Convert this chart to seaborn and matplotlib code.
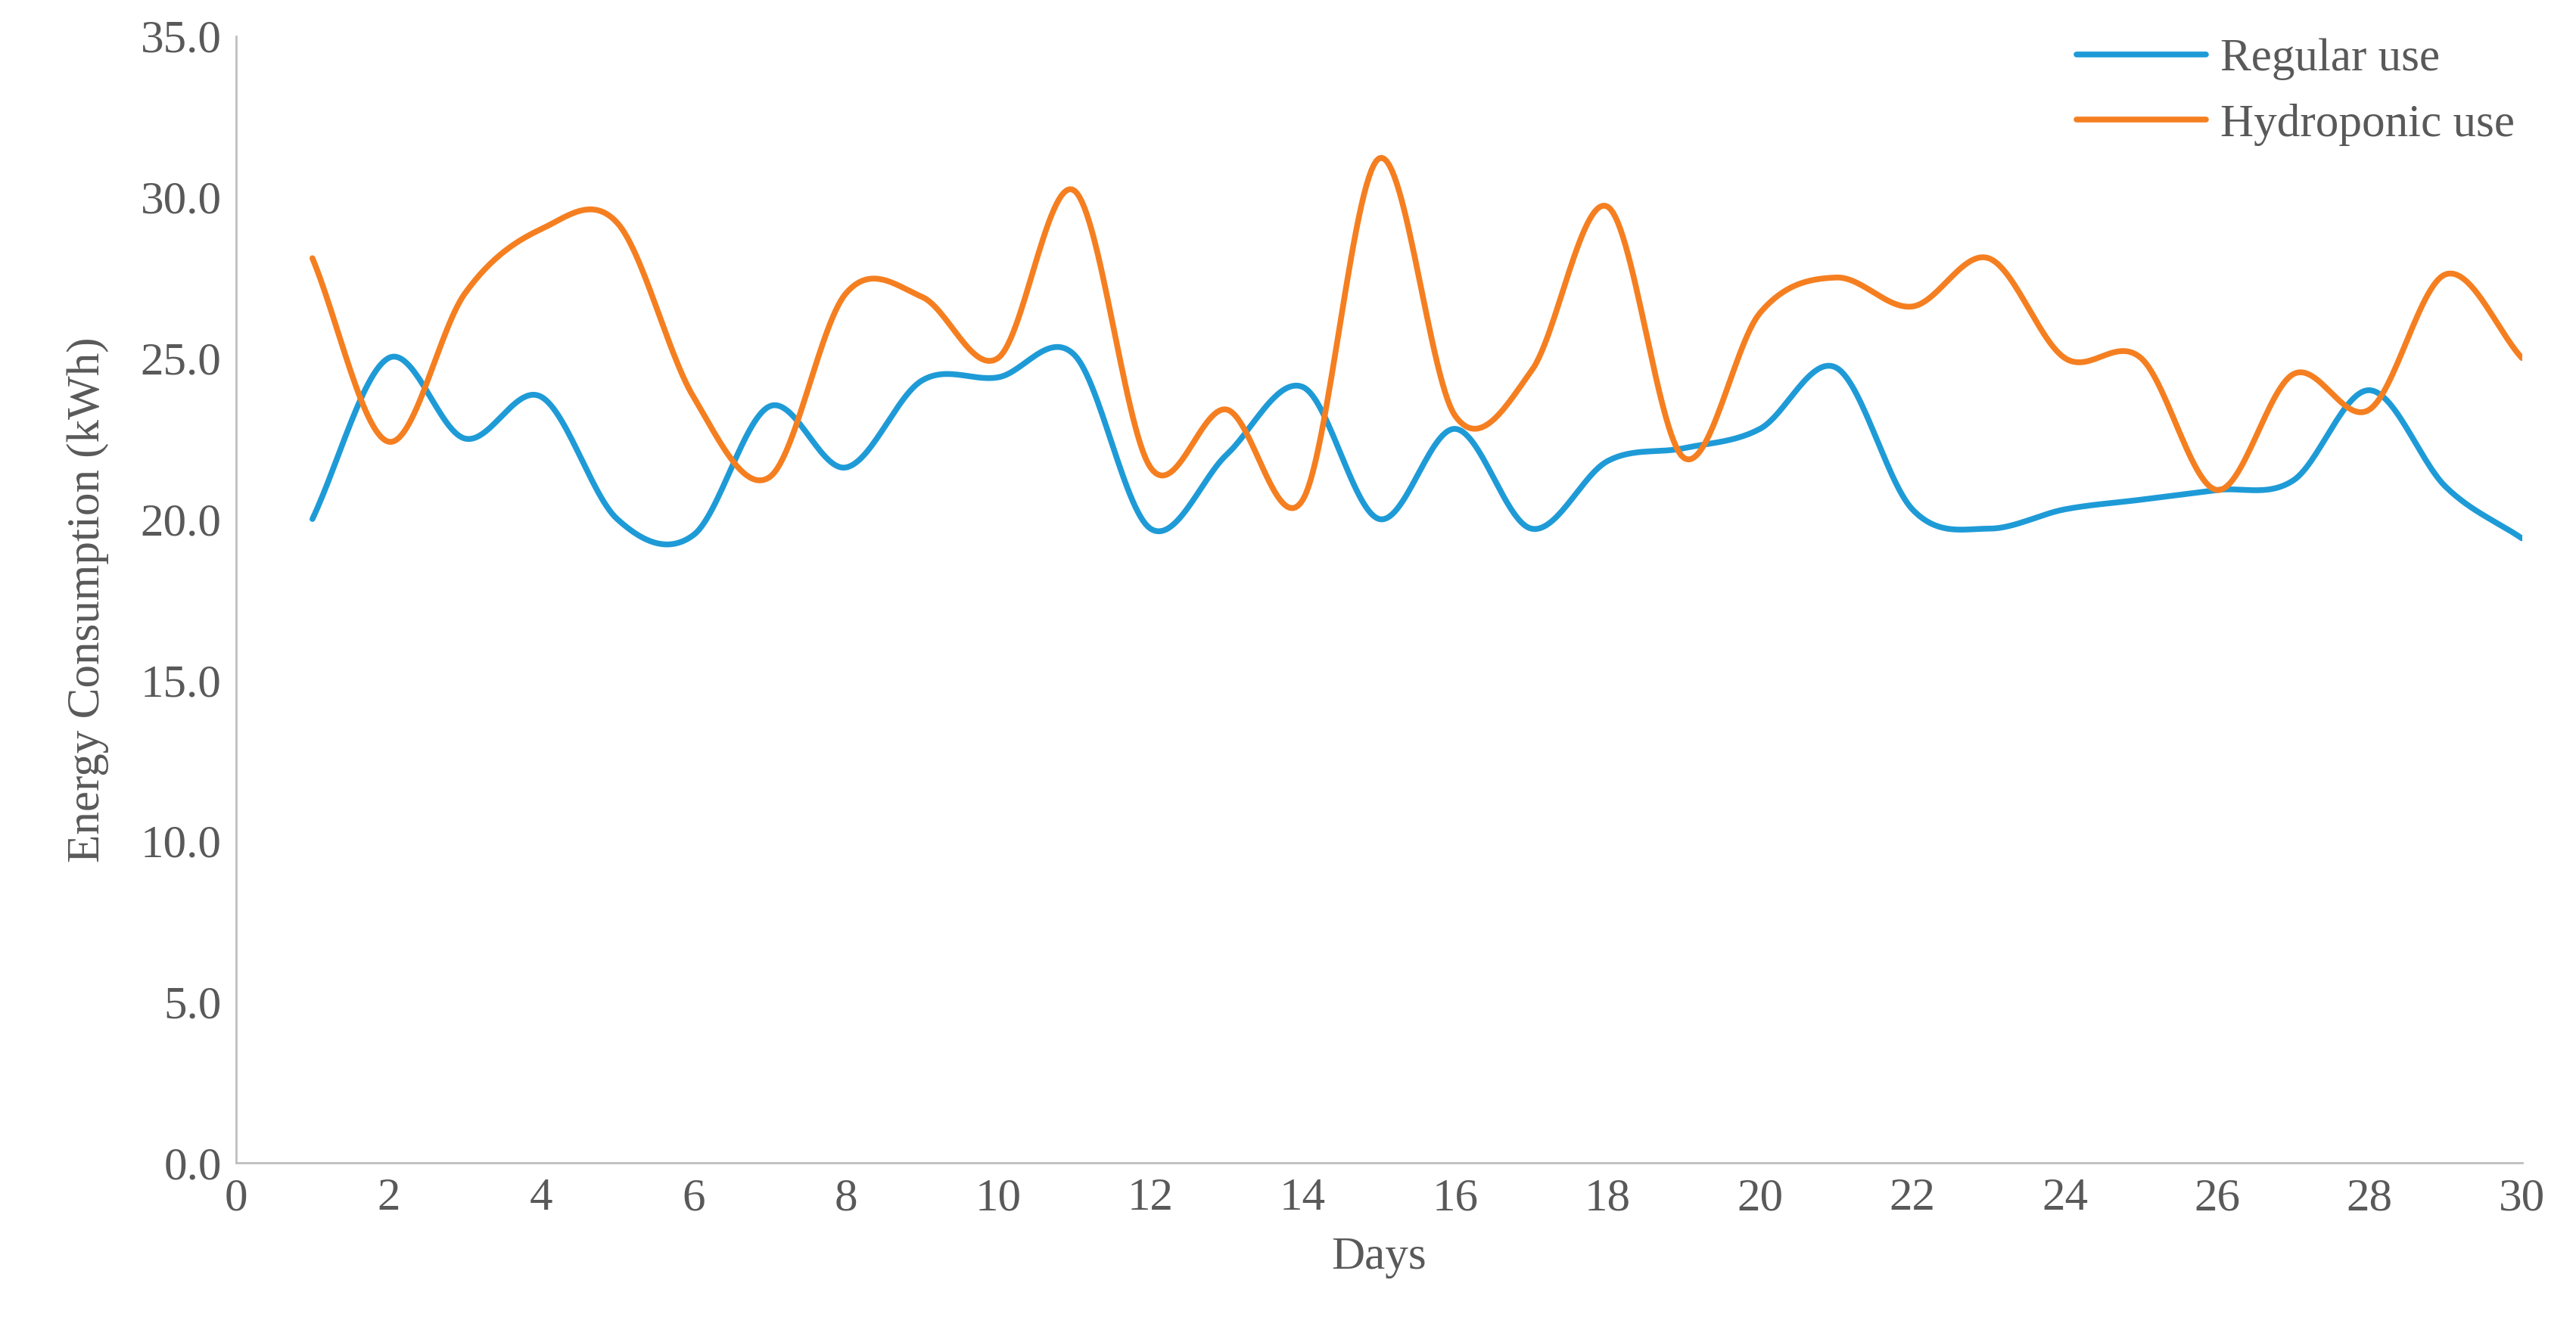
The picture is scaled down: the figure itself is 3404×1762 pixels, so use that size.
import matplotlib
matplotlib.use("Agg")
import matplotlib.pyplot as plt
import seaborn as sns
import pandas as pd
import numpy as np

days = list(range(1, 31))
regular_use = [20.0, 25.0, 22.5, 23.8, 20.0, 19.5, 23.5, 21.6, 24.3, 24.4,
               25.1, 19.7, 22.0, 24.1, 20.0, 22.8, 19.7, 21.8, 22.2, 22.8,
               24.7, 20.3, 19.7, 20.3, 20.6, 20.9, 21.2, 24.0, 21.0, 19.4]
hydroponic_use = [28.1, 22.4, 27.0, 29.0, 29.2, 23.8, 21.3, 27.0, 26.9, 25.0,
                  30.2, 21.6, 23.4, 20.6, 31.2, 23.2, 24.6, 29.7, 21.9, 26.4,
                  27.5, 26.6, 28.1, 25.0, 25.0, 20.9, 24.5, 23.4, 27.6, 25.0]


def smooth(x, y, n=30):
    # Catmull-Rom spline, like Excel's "smoothed line"
    x = np.asarray(x, float)
    y = np.asarray(y, float)
    px = np.concatenate([[2 * x[0] - x[1]], x, [2 * x[-1] - x[-2]]])
    py = np.concatenate([[2 * y[0] - y[1]], y, [2 * y[-1] - y[-2]]])
    xs, ys = [], []
    t = np.linspace(0, 1, n, endpoint=False)
    for i in range(1, len(px) - 2):
        for p, out in ((px, xs), (py, ys)):
            p0, p1, p2, p3 = p[i - 1], p[i], p[i + 1], p[i + 2]
            out.extend(0.5 * (2 * p1 + (-p0 + p2) * t
                              + (2 * p0 - 5 * p1 + 4 * p2 - p3) * t ** 2
                              + (-p0 + 3 * p1 - 3 * p2 + p3) * t ** 3))
    xs.append(x[-1])
    ys.append(y[-1])
    return np.array(xs), np.array(ys)


frames = []
for name, vals in (("Regular use", regular_use), ("Hydroponic use", hydroponic_use)):
    sx, sy = smooth(days, vals)
    frames.append(pd.DataFrame({"Days": sx, "Energy": sy, "Series": name}))
df = pd.concat(frames, ignore_index=True)

sns.set_theme(style="white")
plt.rcParams["font.family"] = ["Liberation Serif", "DejaVu Serif"]

fig = plt.figure(figsize=(34.04, 17.62), dpi=100)
ax = fig.add_axes([0.0917, 0.1275, 0.8873, 0.8455])
sns.lineplot(data=df, x="Days", y="Energy", hue="Series", sort=False,
             palette={"Regular use": "#1E9BD7", "Hydroponic use": "#F57F20"},
             linewidth=5.5, ax=ax, estimator=None)

fs = 44
ax.set_xlim(0, 30)
ax.set_ylim(0, 35)
ax.set_xticks(range(0, 31, 2))
ax.set_yticks(np.arange(0, 35.1, 5))
ax.set_yticklabels([f"{v:.1f}" for v in np.arange(0, 35.1, 5)])
ax.tick_params(labelsize=fs, colors="#595959", length=0, pad=14)
ax.set_xlabel("Days", fontsize=fs, color="#595959", labelpad=16)
ax.set_ylabel("Energy Consumption (kWh)", fontsize=fs, color="#595959", labelpad=30)
for s in ("top", "right"):
    ax.spines[s].set_visible(False)
for s in ("left", "bottom"):
    ax.spines[s].set_color("#BFBFBF")
    ax.spines[s].set_linewidth(2)

leg = ax.legend(loc="upper right", bbox_to_anchor=(1.015, 1.035), frameon=False,
                fontsize=fs, handlelength=2.8, handletextpad=0.3, labelspacing=0.5)
for t in leg.get_texts():
    t.set_color("#595959")

fig.savefig("out.png", dpi=100)
